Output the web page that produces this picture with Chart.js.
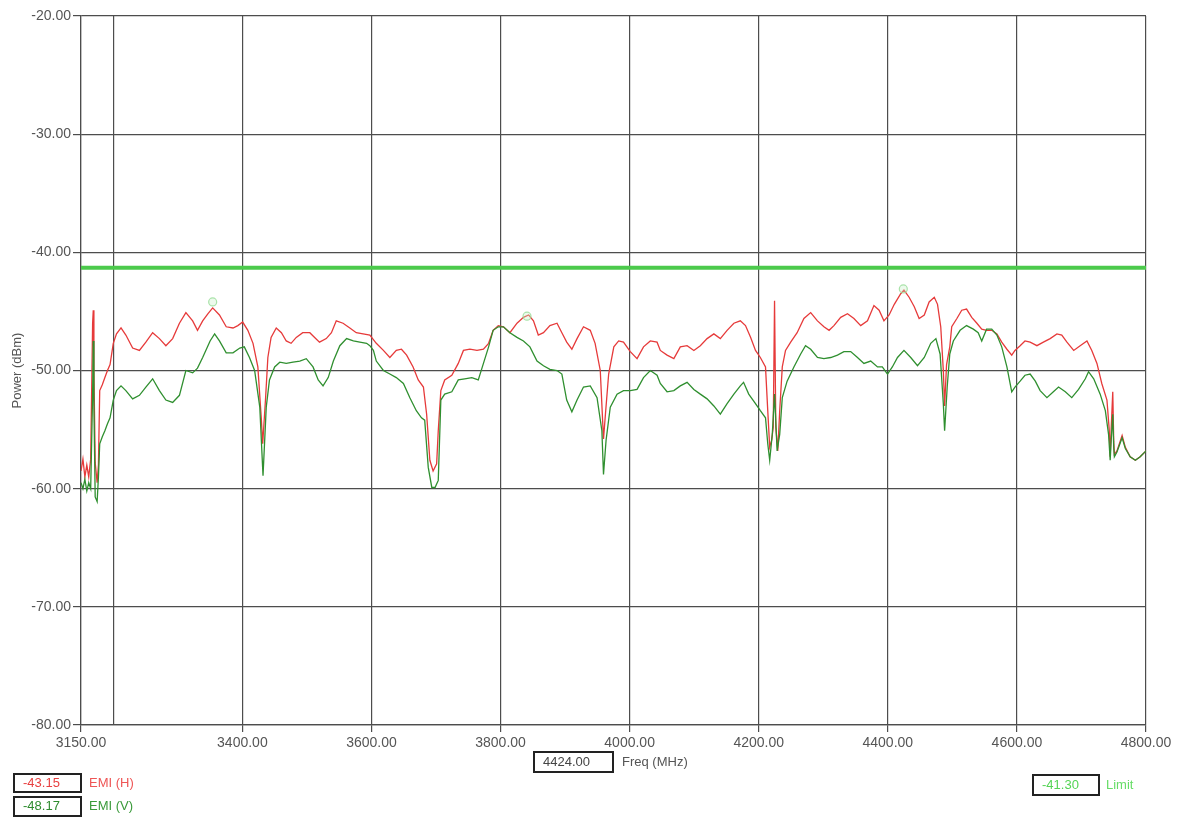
<!DOCTYPE html>
<html>
<head>
<meta charset="utf-8">
<script src="https://cdn.jsdelivr.net/npm/chart.js@4.4.1/dist/chart.umd.min.js"></script>
<style>
  html,body{margin:0;padding:0;background:#fff;}
  #wrap{position:relative;width:1183px;height:819px;overflow:hidden;font-family:"Liberation Sans",Arial,sans-serif;}
  canvas{position:absolute;left:0;top:0;}
  .box{position:absolute;border:2px solid #222;box-sizing:border-box;font-size:13px;line-height:16px;padding-left:8px;}
  .lbl{position:absolute;font-size:13px;line-height:16px;}
</style>
</head>
<body>
<div id="wrap">
  <canvas id="c" width="1183" height="819"></canvas>
  <div class="box" style="left:533px;top:751px;width:81px;height:22px;color:#444;padding-left:8px;line-height:18px;">4424.00</div>
  <div class="lbl" style="left:622px;top:754px;color:#555;">Freq (MHz)</div>
  <div class="box" style="left:13px;top:773px;width:69px;height:20px;color:#e84040;">-43.15</div>
  <div class="lbl" style="left:89px;top:775px;color:#ee5555;">EMI (H)</div>
  <div class="box" style="left:13px;top:796px;width:69px;height:21px;color:#2e8b2e;">-48.17</div>
  <div class="lbl" style="left:89px;top:798px;color:#3a9a3a;">EMI (V)</div>
  <div class="box" style="left:1032px;top:774px;width:68px;height:22px;color:#55d455;line-height:18px;">-41.30</div>
  <div class="lbl" style="left:1106px;top:777px;color:#66dd66;">Limit</div>
</div>
<script>
// ---- data ----
const freqH = [3150,3153,3156,3159,3162,3165,3168,3169,3170,3172,3175,3177,3179,3183,3187,3191,3195,3200,3205,3212,3219.5,3230,3240.5,3250.5,3261,3271.5,3281.5,3292,3302.5,3312.5,3323,3330.5,3338.5,3346.5,3354,3364.5,3375,3385.5,3393,3400.5,3408.5,3416.5,3424,3429.5,3431.5,3436,3439.5,3444.5,3452.5,3460.5,3468,3475.5,3483.5,3493.5,3504.5,3512,3519.5,3530,3538,3545.5,3556,3566.5,3576.5,3587,3597.5,3607.5,3618.5,3628.5,3638.5,3646.5,3654.5,3664.5,3672.5,3680.5,3685.5,3690.5,3695.5,3701,3703.5,3707.5,3713.5,3724.5,3734.5,3742.5,3752.5,3763.5,3773.5,3781.5,3788.5,3796.5,3804.5,3814.5,3825.5,3835.5,3843.5,3851,3858.5,3866.5,3876.5,3887.5,3895,3902.5,3910.5,3918.5,3928.5,3939,3946.5,3954.5,3959.5,3962.5,3967.5,3975.5,3983,3990.5,4001,4011.5,4021.5,4032,4042.5,4047.5,4058,4068.5,4078.5,4089,4099.5,4109.5,4120,4130.5,4140.5,4151,4161.5,4171.5,4179.5,4187.5,4195,4202.5,4210.5,4214,4217,4220,4222.5,4224.5,4226.5,4229.5,4232.5,4236.5,4241.5,4249.5,4259.5,4270,4280.5,4291,4301,4309,4316.5,4327,4337.5,4347.5,4358,4368.5,4378.5,4386.5,4394,4402,4410,4420,4425,4433,4441,4448.5,4456.5,4464,4472,4477,4482,4486,4488,4491,4496,4499,4507,4514.5,4522,4530,4538,4545.5,4553,4561,4569,4576.5,4584.5,4592,4597,4605,4612.5,4620.5,4631,4641,4651.5,4662,4669.5,4677.5,4688,4698,4708.5,4716,4724,4731.5,4739.5,4743,4744.5,4746,4748.5,4750,4751,4755,4763,4768,4775.5,4783.5,4791,4800];
const emiH = [-58.5,-57.5,-59.0,-58.0,-59.0,-57.5,-46.0,-44.9,-50.0,-57.8,-59.5,-58.0,-51.7,-51.2,-50.6,-50.0,-49.5,-47.7,-46.9,-46.4,-47.0,-48.1,-48.3,-47.6,-46.8,-47.3,-47.9,-47.3,-46.0,-45.1,-45.8,-46.6,-45.8,-45.2,-44.7,-45.3,-46.3,-46.4,-46.2,-45.9,-46.6,-47.7,-49.7,-54.2,-56.2,-52.3,-48.9,-47.2,-46.4,-46.8,-47.5,-47.7,-47.2,-46.8,-46.8,-47.2,-47.6,-47.3,-46.8,-45.8,-46.0,-46.4,-46.8,-46.9,-47.0,-47.7,-48.3,-48.9,-48.3,-48.2,-48.7,-49.7,-50.8,-51.4,-53.7,-57.6,-58.5,-57.9,-55.1,-51.7,-50.8,-50.4,-49.4,-48.3,-48.2,-48.3,-48.2,-47.7,-46.6,-46.2,-46.3,-46.8,-46.0,-45.5,-45.3,-45.8,-47.0,-46.8,-46.2,-46.0,-46.8,-47.6,-48.2,-47.3,-46.3,-46.6,-47.7,-50.0,-55.8,-53.7,-50.3,-48.0,-47.5,-47.6,-48.4,-49.0,-48.0,-47.5,-47.6,-48.3,-48.7,-49.0,-48.0,-47.9,-48.3,-47.9,-47.3,-46.9,-47.3,-46.6,-46.0,-45.8,-46.2,-47.2,-48.3,-48.9,-49.7,-53.4,-56.5,-55.9,-54.8,-44.1,-54.8,-56.8,-53.4,-49.7,-48.3,-47.6,-46.8,-45.6,-45.1,-45.8,-46.3,-46.6,-46.2,-45.5,-45.2,-45.6,-46.2,-45.8,-44.5,-44.9,-45.8,-45.3,-44.4,-43.5,-43.2,-43.8,-44.6,-45.6,-45.3,-44.2,-43.8,-44.4,-46.3,-50.0,-53.0,-49.5,-48.0,-46.3,-45.6,-44.9,-44.8,-45.5,-46.0,-46.5,-46.6,-46.6,-46.9,-47.6,-48.2,-48.7,-48.3,-47.9,-47.5,-47.6,-47.9,-47.6,-47.3,-46.9,-47.0,-47.6,-48.3,-47.9,-47.5,-48.3,-49.4,-51.1,-52.5,-55.0,-57.3,-55.0,-51.8,-56.0,-57.1,-56.8,-55.5,-56.5,-57.3,-57.6,-57.3,-56.8];

const freqV = [3150,3153,3156,3159,3162,3165,3168,3169,3170,3172,3175,3177,3179,3183,3187,3191,3195,3200,3205,3212,3219.5,3230,3240.5,3250.5,3261,3271.5,3281.5,3292,3302.5,3312.5,3323,3330.5,3338.5,3350,3357,3364.5,3375,3385.5,3396,3403,3411,3419,3427,3432,3437,3442,3450,3458,3468,3478.5,3489,3499,3509.5,3517.5,3525,3533,3541,3551,3561.5,3572,3582,3592.5,3597.5,3603,3607.5,3618.5,3628.5,3638.5,3649.5,3659.5,3669.5,3677.5,3682.5,3688,3693.5,3698.5,3703.5,3707.5,3713.5,3724.5,3734.5,3744.5,3755.5,3765.5,3773.5,3781.5,3788.5,3796.5,3804.5,3814.5,3825.5,3835.5,3845.5,3856.5,3866.5,3876.5,3887.5,3895,3902.5,3910.5,3918.5,3928.5,3939,3949.5,3957,3959.5,3963.5,3970,3980.5,3990.5,4001,4011.5,4021.5,4032,4042.5,4047.5,4058,4068.5,4078.5,4089,4099.5,4109.5,4120,4130.5,4140.5,4151,4161.5,4171.5,4176.5,4184.5,4195,4202.5,4210.5,4214,4217,4221,4224.5,4228.5,4232.5,4236.5,4244,4254.5,4265,4272.5,4280.5,4291,4301,4311.5,4322,4332,4342.5,4353,4363,4373.5,4384,4391.5,4399.5,4407,4415,4425,4435.5,4446,4456.5,4466.5,4474.5,4481,4486,4488,4492,4496,4501.5,4512,4522,4532.5,4540,4545.5,4553,4561,4569,4576.5,4584.5,4592,4597,4605,4612.5,4620.5,4628.5,4636,4646.5,4656.5,4664.5,4675,4685,4695.5,4706,4711,4719,4729,4737,4742,4744.5,4746,4748.5,4750,4751,4755,4763,4768,4775.5,4783.5,4791,4800];
const emiV = [-59.5,-60.0,-59.2,-60.2,-59.5,-60.0,-52.0,-47.5,-53.0,-60.7,-61.1,-59.0,-56.2,-55.6,-55.1,-54.5,-54.0,-52.5,-51.7,-51.3,-51.7,-52.4,-52.1,-51.4,-50.7,-51.7,-52.5,-52.7,-52.1,-50.0,-50.2,-49.8,-48.9,-47.5,-46.9,-47.5,-48.5,-48.5,-48.1,-48.0,-48.9,-50.0,-53.1,-58.9,-53.1,-50.8,-49.7,-49.3,-49.4,-49.3,-49.2,-49.0,-49.7,-50.8,-51.3,-50.6,-49.2,-47.9,-47.3,-47.5,-47.6,-47.7,-47.9,-48.3,-49.2,-50.0,-50.3,-50.6,-51.1,-52.3,-53.4,-54.0,-54.2,-58.2,-59.9,-59.9,-59.3,-52.5,-52.0,-51.8,-50.8,-50.7,-50.6,-50.8,-49.4,-48.0,-46.6,-46.3,-46.3,-46.8,-47.2,-47.5,-48.0,-49.2,-49.6,-49.9,-50.0,-50.3,-52.5,-53.5,-52.5,-51.4,-51.3,-52.3,-55.1,-58.8,-55.9,-53.1,-52.0,-51.7,-51.7,-51.6,-50.6,-50.0,-50.4,-51.1,-51.8,-51.7,-51.3,-51.0,-51.6,-52.0,-52.4,-53.0,-53.7,-52.8,-52.0,-51.3,-51.0,-52.0,-52.8,-53.4,-54.0,-56.2,-57.6,-55.4,-52.0,-56.8,-55.4,-52.3,-50.9,-49.7,-48.6,-47.9,-48.2,-48.9,-49.0,-48.9,-48.7,-48.4,-48.4,-48.9,-49.4,-49.2,-49.7,-49.7,-50.3,-49.7,-48.9,-48.3,-48.9,-49.6,-48.9,-47.7,-47.3,-48.6,-52.8,-55.1,-51.4,-48.6,-47.5,-46.6,-46.2,-46.5,-46.8,-47.5,-46.5,-46.5,-47.0,-48.0,-49.7,-51.8,-51.4,-50.9,-50.4,-50.3,-50.9,-51.7,-52.3,-51.8,-51.4,-51.8,-52.3,-51.6,-50.7,-50.1,-50.7,-52.0,-53.4,-55.4,-57.6,-56.0,-53.7,-56.5,-57.3,-56.9,-55.7,-56.6,-57.3,-57.6,-57.3,-56.8];

const limitFreq = [3150, 4800];
const limitVal = [-41.3, -41.3];

const markerFreq = [3354, 3841, 4424];
const markerVal = [-44.2, -45.4, -43.1];

const xTickValues = [3150, 3200, 3400, 3600, 3800, 4000, 4200, 4400, 4600, 4800];
const xTickLabels = ['3150.00', '', '3400.00', '3600.00', '3800.00', '4000.00', '4200.00', '4400.00', '4600.00', '4800.00'];

const pts = (xs, ys) => xs.map((x, i) => ({x: x, y: ys[i]}));

const FONT = '"Liberation Sans", Arial, sans-serif';
const GRID = '#4d4d4d';

new Chart(document.getElementById('c'), {
  type: 'line',
  data: {
    datasets: [
      {label: 'Marker', type: 'scatter', data: pts(markerFreq, markerVal), pointRadius: 4, pointBorderWidth: 1.2,
       pointBorderColor: 'rgba(150,220,150,0.8)', pointBackgroundColor: 'rgba(200,240,200,0.35)', showLine: false},
      {label: 'Limit', data: pts(limitFreq, limitVal), borderColor: '#4cca4c', borderWidth: 4, pointRadius: 0},
      {label: 'EMI (V)', data: pts(freqV, emiV), borderColor: '#2f8f2f', borderWidth: 1.3, pointRadius: 0, tension: 0},
      {label: 'EMI (H)', data: pts(freqH, emiH), borderColor: '#e63a3a', borderWidth: 1.3, pointRadius: 0, tension: 0}
    ]
  },
  options: {
    responsive: false,
    animation: false,
    layout: {padding: {top: 16, right: 37, left: 0, bottom: 0}},
    plugins: {legend: {display: false}, tooltip: {enabled: false}},
    scales: {
      x: {
        type: 'linear', min: 3150, max: 4800,
        afterBuildTicks: s => { s.ticks = xTickValues.map(v => ({value: v})); },
        afterFit: s => { s.height = 94; },
        ticks: {
          autoSkip: false, maxRotation: 0, padding: 3,
          color: '#555', font: {family: FONT, size: 14},
          callback: (v) => { const i = xTickValues.indexOf(v); return i >= 0 ? xTickLabels[i] : ''; }
        },
        grid: {
          color: GRID, lineWidth: 1.2, tickLength: 7,
          tickColor: c => (c.tick && xTickLabels[xTickValues.indexOf(c.tick.value)] === '') ? 'rgba(0,0,0,0)' : GRID
        },
        border: {color: GRID, width: 1.2}
      },
      y: {
        min: -80, max: -20,
        afterFit: s => { s.width = 81; },
        ticks: {stepSize: 10, padding: 2, color: '#555', font: {family: FONT, size: 14},
                callback: v => Number(v).toFixed(2)},
        grid: {color: GRID, lineWidth: 1.2, tickLength: 8, tickColor: GRID},
        border: {color: GRID, width: 1.2},
        title: {display: true, text: 'Power (dBm)', color: '#555', font: {family: FONT, size: 13}, padding: {top: 10, bottom: 0}}
      }
    }
  }
});
</script>
</body>
</html>
